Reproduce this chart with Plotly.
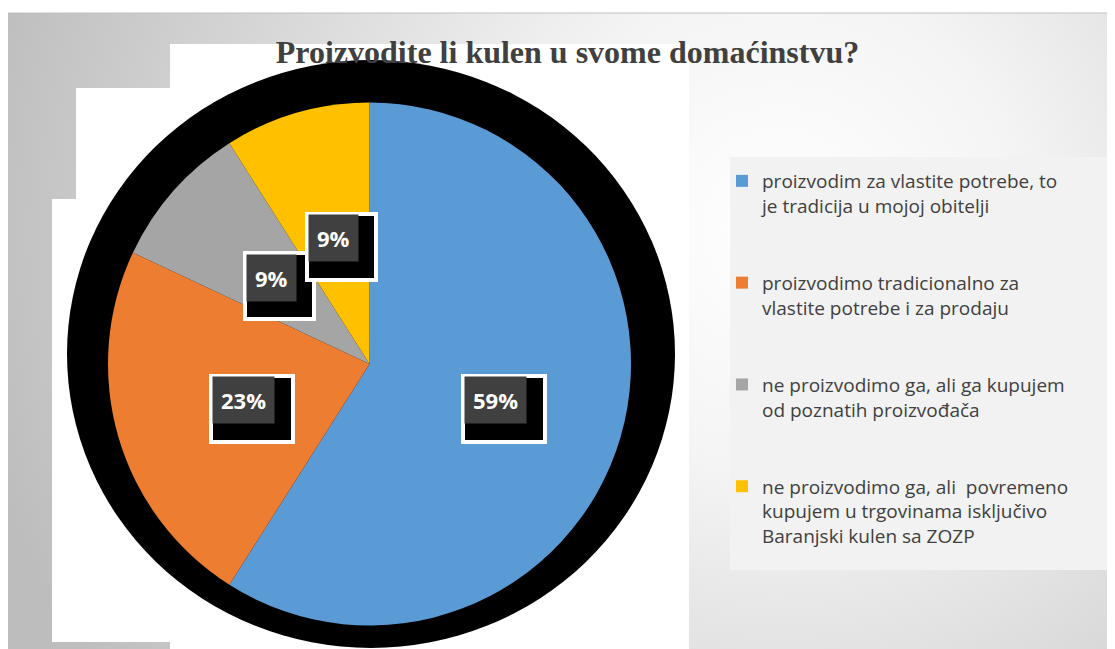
import base64
import math
import plotly.graph_objects as go

# ---------------- data ----------------
categories = [
    "proizvodim za vlastite potrebe, to<br>je tradicija u mojoj obitelji",
    "proizvodimo tradicionalno za<br>vlastite potrebe i za prodaju",
    "ne proizvodimo ga, ali ga kupujem<br>od poznatih proizvođača",
    "ne proizvodimo ga, ali  povremeno<br>kupujem u trgovinama isključivo<br>Baranjski kulen sa ZOZP",
]
values = [59, 23, 9, 9]
colors = ["#5B9BD5", "#ED7D31", "#A5A5A5", "#FFC000"]
title_text = "Proizvodite li kulen u svome domaćinstvu?"

# ---------------- layout geometry (page pixels; the page has an 8px body margin) ----------------
OFF = 8
W, H = 1115 - OFF, 649 - OFF
CX, CY, R = 369.5, 364.0, 261.5
LABEL_FONT = 22
LABEL_PAD = 8


def px(x):
    return (x - OFF) / W


def py(y):
    return 1 - (y - OFF) / H


# legend labels padded so entries are spaced like the original
pad_lines = [2, 2, 2, 0]
legend_labels = [c + "<br>&nbsp;" * p for c, p in zip(categories, pad_lines)]

pie = go.Pie(
    labels=legend_labels,
    values=values,
    sort=False,
    direction="clockwise",
    rotation=0,
    marker=dict(colors=colors, line=dict(width=0)),
    textinfo="none",
    hoverinfo="label+percent",
    domain=dict(x=[px(CX - R), px(CX + R)], y=[py(CY + R), py(CY - R)]),
)

fig = go.Figure(pie)


def est_width(s):
    # rough width of bold Open Sans text, used only to size the shadow box
    return sum((0.88 if ch == "%" else 0.575) * LABEL_FONT for ch in s)


# data labels computed from the slice angles
total = sum(values)
annotations = []
shadows = []
cum = 0
for v in values:
    mid = (cum + v / 2) / total * 2 * math.pi
    cum += v
    lx = CX + 0.5 * R * math.sin(mid)
    ly = CY - 0.5 * R * math.cos(mid)
    txt = f"{round(v / total * 100)}%"
    common = dict(
        x=px(lx), y=py(ly), xref="paper", yref="paper",
        showarrow=False, xanchor="center", yanchor="middle",
    )
    bw = est_width(txt) + 2 * LABEL_PAD
    bh = LABEL_FONT * 1.3 + 2 * LABEL_PAD
    shadows.append(dict(
        text="&nbsp;", font=dict(size=4, color="black"),
        width=bw + 17, height=bh + 17, borderpad=0,
        bgcolor="black", bordercolor="white", borderwidth=4,
        xshift=8.5, yshift=-8.5, **common,
    ))
    annotations.append(dict(
        text=f"<b>{txt}</b>", font=dict(family="Open Sans", size=LABEL_FONT, color="white"),
        bgcolor="#404040", borderpad=LABEL_PAD, **common,
    ))

# background gradient
svg = (
    '<svg xmlns="http://www.w3.org/2000/svg" width="1107" height="636" viewBox="0 0 1107 636">'
    '<defs><radialGradient id="g" gradientUnits="userSpaceOnUse" cx="772" cy="217" r="820">'
    '<stop offset="0" stop-color="#ffffff"/><stop offset="0.3" stop-color="#f4f4f4"/>'
    '<stop offset="1" stop-color="#bdbdbd"/></radialGradient></defs>'
    '<rect width="1107" height="636" fill="url(#g)"/></svg>'
)
src = "data:image/svg+xml;base64," + base64.b64encode(svg.encode()).decode()

white_pts = [(170, 44), (689, 44), (689, 649), (170, 649), (170, 642), (52, 642),
             (52, 199), (76, 199), (76, 88), (170, 88)]
white_path = "M" + " L".join(f"{px(x):.5f},{py(y):.5f}" for x, y in white_pts) + " Z"

shapes = [
    dict(type="line", xref="paper", yref="paper", x0=0, x1=1, y0=py(13), y1=py(13),
         line=dict(color="#c0c0c0", width=1), layer="below"),
    dict(type="path", xref="paper", yref="paper", path=white_path,
         fillcolor="white", line=dict(width=0), layer="below"),
    dict(type="circle", xref="paper", yref="paper", x0=px(67), x1=px(675), y0=py(648), y1=py(60),
         fillcolor="black", line=dict(width=0), layer="below"),
    dict(type="rect", xref="paper", yref="paper", x0=px(730), x1=px(1111), y0=py(570), y1=py(157),
         fillcolor="#f2f2f2", line=dict(width=0), layer="below"),
]

fig.update_layout(
    width=W, height=H, autosize=False,
    margin=dict(l=0, r=0, t=0, b=0),
    paper_bgcolor="white",
    title=dict(text=f"<b>{title_text}</b>", x=px(567.5), xanchor="center",
               y=py(52), yanchor="middle", yref="paper",
               font=dict(family="Liberation Serif", size=32, color="#404040")),
    showlegend=True,
    legend=dict(x=px(722), y=py(162), xanchor="left", yanchor="top",
                bgcolor="rgba(0,0,0,0)", valign="top",
                font=dict(family="Open Sans", size=19, color="#404040")),
    images=[dict(source=src, xref="paper", yref="paper", x=0, y=py(13),
                 sizex=1, sizey=py(13), xanchor="left", yanchor="top",
                 sizing="stretch", layer="below")],
    shapes=shapes,
    annotations=shadows + annotations,
)

fig.write_html("out.html")
